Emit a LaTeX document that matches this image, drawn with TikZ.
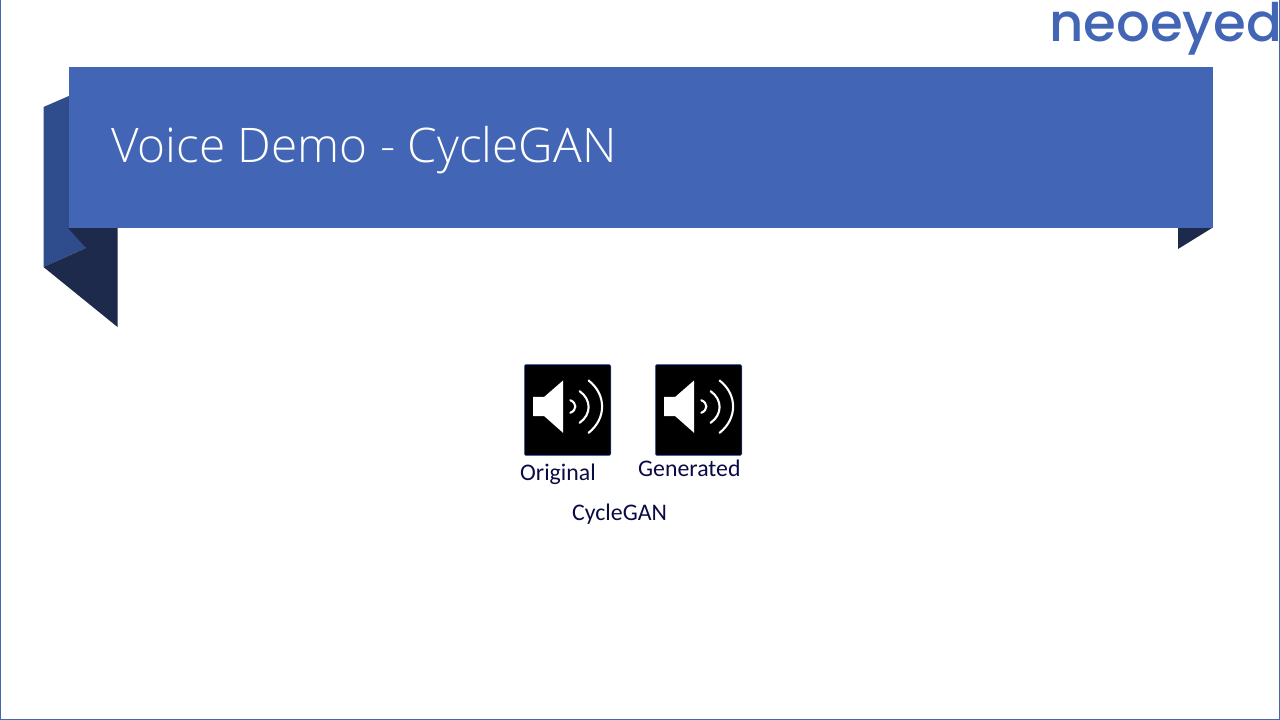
\documentclass[tikz,border=0pt]{standalone}
\usepackage{fontspec}
\setmainfont{Carlito}
\newfontfamily\titlefont{Open Sans Light}
\newfontfamily\logofont{Poppins Medium}
\definecolor{bannerblue}{HTML}{4265B5}
\definecolor{folddark}{HTML}{1E2A4C}
\definecolor{foldmid}{HTML}{2F4C8C}
\definecolor{labelnavy}{HTML}{0A0A45}
\tikzset{
 x=1pt,y=-1pt,
 label text/.style={anchor=base west,inner sep=0pt,text=labelnavy,font=\fontsize{23.8}{24}\selectfont},
 iconbox/.style={fill=black,draw=bannerblue,line width=.6pt,rounded corners=1.5pt},
 wave/.style={draw=white,line width=2.1pt,line cap=round},
 pics/speaker/.style={code={
   \path[iconbox] (0,0) rectangle (86.5,91);
   \fill[white] (8.7,32.3) -- (20,32.3) -- (38.7,16) -- (38.7,68.3) -- (20,51.7) -- (8.7,51.7) -- cycle;
   \path[wave] (46,35.7) .. controls (52.7,38.5) and (52.7,45.5) .. (46,48.3);
   \path[wave] (55.3,26.7) .. controls (67.3,35) and (67.3,50) .. (55.3,58.3);
   \path[wave] (64.3,16) .. controls (82.3,30) and (82.3,54) .. (64.3,68.3);
 }}
}
\begin{document}
\begin{tikzpicture}
\useasboundingbox (0,0) rectangle (1280,720);
\fill[white] (0,0) rectangle (1280,720);
\draw[bannerblue,line width=1.2pt] (0,0) -- (0,720) -- (1280,720) -- (1280,0);
% ribbon folds
\fill[foldmid] (43.5,107) -- (70,95.5) -- (70,228) -- (86,248) -- (43.5,267) -- cycle;
\fill[folddark] (68,228) -- (117.5,228) -- (117.5,327) -- (43.5,267) -- (86,248) -- cycle;
\fill[folddark] (1178,228) -- (1212,228) -- (1178,249) -- cycle;
\fill[bannerblue] (68.5,67) rectangle (1212.5,228);
\node[anchor=base west,inner sep=0pt,text=white,font=\titlefont\fontsize{47.7}{48}\selectfont] (title) at (111,162) {Voice Demo - CycleGAN};
% speaker icons
\pic at (524.3,364.5) {speaker};
\pic at (655.3,364.5) {speaker};
\node[label text] (orig) at (520,480) {Original};
\node[label text] (gen) at (638,476) {Generated};
\node[label text] (cg) at (572,520) {CycleGAN};
% logo
\node[anchor=base west,inner sep=0pt,text=bannerblue,font=\logofont\fontsize{53}{53}\selectfont,xscale=1.0,transform shape] (logo) at (1049,41) {neoeyed};
\end{tikzpicture}
\end{document}
